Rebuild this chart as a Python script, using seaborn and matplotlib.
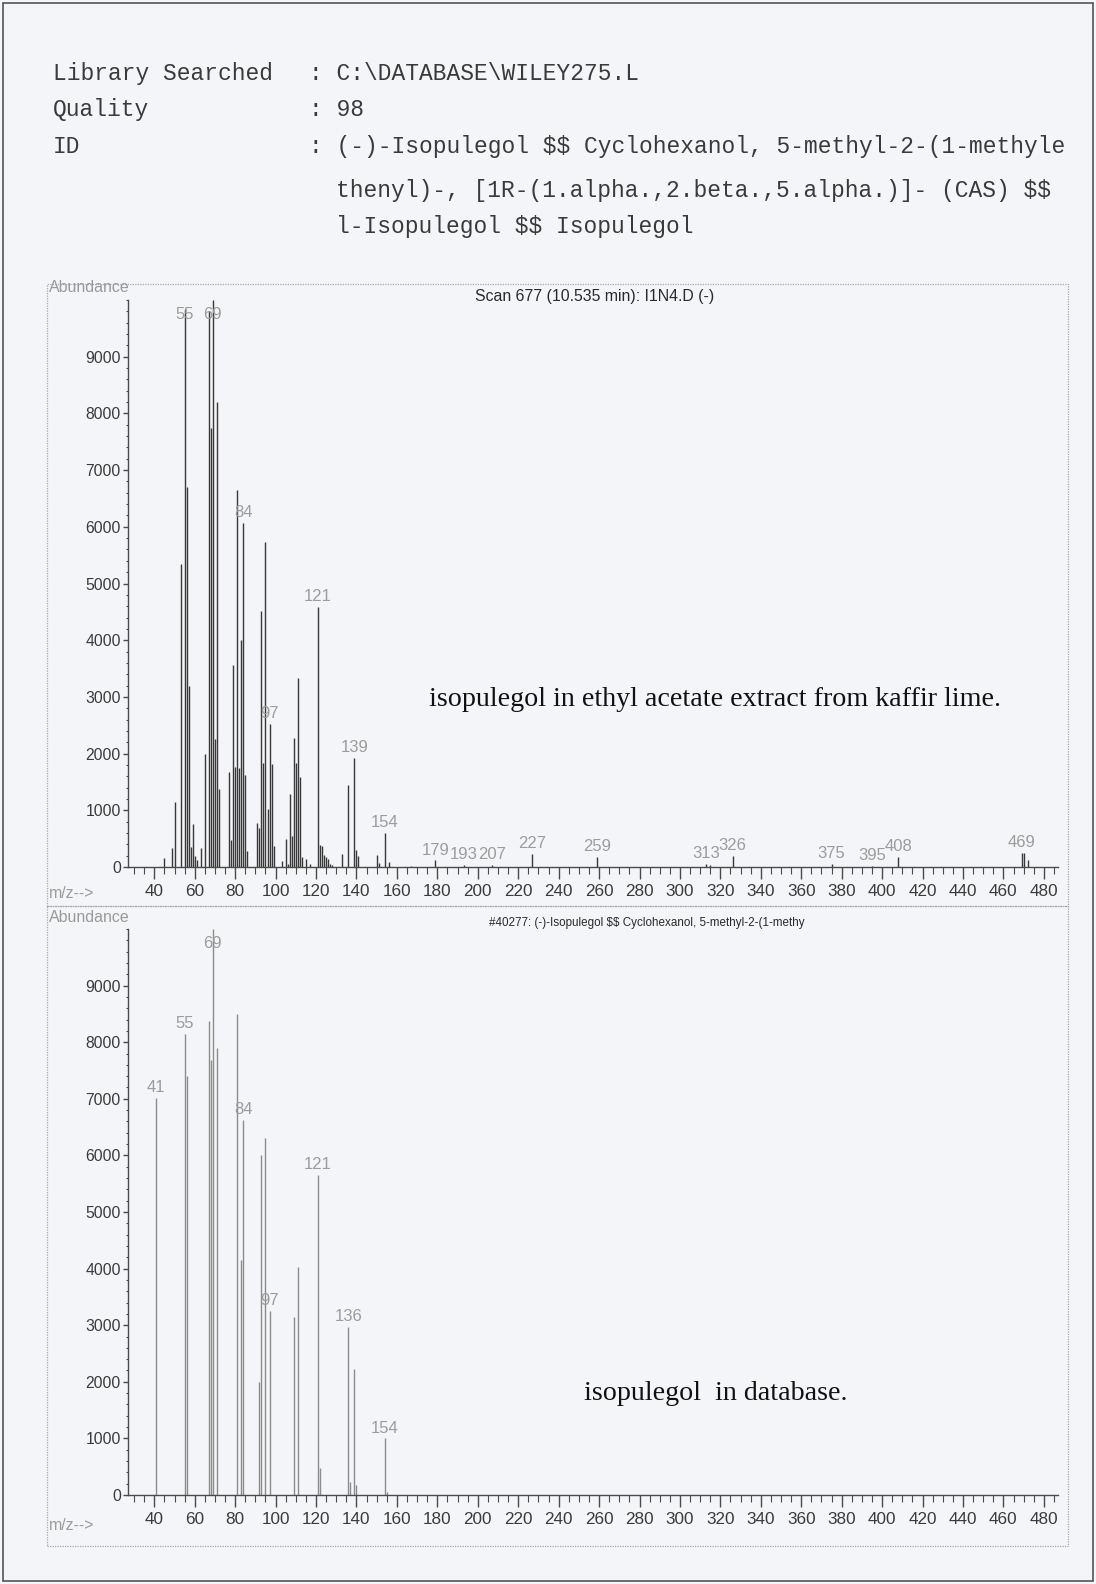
import matplotlib
matplotlib.use("Agg")
import numpy as np
import pandas as pd
import seaborn as sns
import matplotlib.pyplot as plt
from matplotlib.ticker import MultipleLocator
from matplotlib.patches import Rectangle

# ---------------- data ----------------
header_labels = ["Library Searched", "Quality", "ID"]
header_values = [": C:\\DATABASE\\WILEY275.L", ": 98",
                 ": (-)-Isopulegol $$ Cyclohexanol, 5-methyl-2-(1-methyle"]
header_cont = ["thenyl)-, [1R-(1.alpha.,2.beta.,5.alpha.)]- (CAS) $$",
               "l-Isopulegol $$ Isopulegol"]

sample_title = "Scan 677 (10.535 min): I1N4.D (-)"
library_title = "#40277: (-)-Isopulegol $$ Cyclohexanol, 5-methyl-2-(1-methy"
sample_note = "isopulegol in ethyl acetate extract from kaffir lime."
library_note = "isopulegol  in database."

sample_mz = [45, 49, 50, 53, 55, 56, 57, 58, 59, 60, 61, 63, 65, 67, 68, 69, 70, 71, 72,
             77, 78, 79, 80, 81, 82, 83, 84, 85, 86, 91, 92, 93, 94, 95, 96, 97, 98, 99,
             103, 105, 106, 107, 108, 109, 110, 111, 112, 113, 115, 117, 121, 122, 123,
             124, 125, 126, 127, 128, 133, 136, 139, 140, 141, 150, 151, 154, 156, 167,
             179, 193, 207, 227, 259, 313, 315, 326, 375, 395, 408, 469, 470, 472]
sample_ab = [160, 340, 1150, 5350, 9840, 6700, 3200, 350, 750, 200, 130, 330, 2000, 9800,
             7750, 10000, 2250, 8200, 1370, 1670, 470, 3560, 1770, 6650, 1750, 4000, 6070,
             1620, 290, 770, 690, 4520, 1840, 5730, 1030, 2520, 1810, 370, 110, 490, 60,
             1280, 550, 2280, 1840, 3330, 1590, 175, 135, 60, 4580, 390, 370, 210, 175,
             135, 50, 35, 235, 1450, 1930, 295, 195, 210, 75, 605, 90, 15, 115, 30, 30,
             236, 175, 55, 30, 190, 55, 20, 175, 250, 240, 120]
sample_labels = [55, 69, 84, 97, 121, 139, 154, 179, 193, 207, 227, 259, 313, 326, 375,
                 395, 408, 469]

library_mz = [41, 55, 56, 67, 68, 69, 71, 81, 83, 84, 92, 93, 95, 97, 109, 111, 121, 122,
              136, 137, 139, 140, 154, 155]
library_ab = [7020, 8150, 7400, 8370, 7690, 10000, 7890, 8500, 4160, 6630, 2000, 6000,
              6300, 3250, 3150, 4020, 5650, 480, 2970, 230, 2230, 175, 1000, 60]
library_labels = [41, 55, 69, 84, 97, 121, 136, 154]

y_ticks = [0, 1000, 2000, 3000, 4000, 5000, 6000, 7000, 8000, 9000]
x_ticks = list(range(40, 481, 20))

# ---------------- style ----------------
sns.set_theme(style="white")
plt.rcParams["font.family"] = ["Liberation Sans", "DejaVu Sans"]
plt.rcParams["text.parse_math"] = False

W, H = 1096, 1584
BG = "#f4f5f8"
fig = plt.figure(figsize=(W / 100, H / 100), dpi=100, facecolor=BG)


def fx(x):
    return x / W


def fy(y):
    return 1 - y / H


# page border
fig.add_artist(Rectangle((fx(3), fy(1581)), fx(1090), (1578) / H, transform=fig.transFigure,
                         fill=False, edgecolor="#555555", lw=1.2))

# header text (monospace)
mono = ["Liberation Mono", "DejaVu Sans Mono"]
base_y = [80, 116, 153]
for lab, val, yb in zip(header_labels, header_values, base_y):
    fig.text(fx(53), fy(yb), lab, family=mono, fontsize=16.5, color="#3a3a3a",
             va="baseline", parse_math=False)
    fig.text(fx(309), fy(yb), val, family=mono, fontsize=16.5, color="#3a3a3a",
             va="baseline", parse_math=False)
for txt, yb in zip(header_cont, [197, 233]):
    fig.text(fx(336), fy(yb), txt, family=mono, fontsize=16.5, color="#3a3a3a",
             va="baseline", parse_math=False)

# panel frames (dotted)
for (y0, y1) in [(284, 906), (906, 1546)]:
    fig.add_artist(Rectangle((fx(47), fy(y1)), fx(1068 - 47), (y1 - y0) / H,
                             transform=fig.transFigure, fill=False,
                             edgecolor="#a8a8a8", lw=0.9, ls=(0, (1, 1))))


def draw_panel(ax, mz, ab, labels, line_color, lw):
    df = pd.DataFrame({"mz": mz, "ab": ab})
    ax.set_facecolor("none")
    ax.vlines(df["mz"], 0, df["ab"], colors=line_color, lw=lw)
    ax.set_xlim(27, 487)
    ax.set_ylim(0, 10000)
    sns.despine(ax=ax)
    for s in ["left", "bottom"]:
        ax.spines[s].set_color("#4a4a4a")
        ax.spines[s].set_linewidth(1.0)
    ax.set_yticks(y_ticks)
    ax.yaxis.set_minor_locator(MultipleLocator(200))
    ax.set_xticks(x_ticks)
    ax.xaxis.set_minor_locator(MultipleLocator(5))
    ax.tick_params(axis="y", which="major", direction="out", length=3.6, width=1,
                   color="#4a4a4a", labelsize=11.3, labelcolor="#3a3a3a", pad=1.5,
                   left=True)
    ax.tick_params(axis="y", which="minor", direction="out", length=1.8, width=0.8,
                   color="#4a4a4a", left=True)
    ax.tick_params(axis="x", which="major", direction="out", length=8.5, width=1,
                   color="#4a4a4a", labelsize=12.3, labelcolor="#3a3a3a", pad=4,
                   bottom=True)
    ax.tick_params(axis="x", which="minor", direction="out", length=5, width=0.8,
                   color="#4a4a4a", bottom=True)
    ax.grid(False)
    lab = df[df["mz"].isin(labels)]
    for m, a in zip(lab["mz"], lab["ab"]):
        ax.text(m, min(a + 50, 9610), str(m), ha="center", va="bottom",
                fontsize=12, color="#9c9c9c")


ax1 = fig.add_axes([fx(128), fy(867), (1058 - 128) / W, (867 - 300) / H])
draw_panel(ax1, sample_mz, sample_ab, sample_labels, "#383838", 1.0)
ax2 = fig.add_axes([fx(128), fy(1495), (1058 - 128) / W, (1495 - 929) / H])
draw_panel(ax2, library_mz, library_ab, library_labels, "#8c8c8c", 1.0)

# panel annotation texts
for yA, yM in [(287, 893), (917, 1526)]:
    fig.text(fx(49), fy(yA), "Abundance", fontsize=11.5, color="#9a9a9a", va="center")
    fig.text(fx(49), fy(yM), "m/z-->", fontsize=11.4, color="#9a9a9a", va="center")
fig.text(fx(595), fy(296), sample_title, fontsize=11.4, color="#2a2a2a",
         ha="center", va="center", parse_math=False)
fig.text(fx(647), fy(923), library_title, fontsize=8.4, color="#2a2a2a",
         ha="center", va="center", parse_math=False)

serif = ["Liberation Serif", "DejaVu Serif"]
fig.text(fx(429), fy(699), sample_note, family=serif, fontsize=20.2, color="#111111",
         ha="left", va="center")
fig.text(fx(584), fy(1394), library_note, family=serif, fontsize=20.2, color="#111111",
         ha="left", va="center")

fig.savefig("out.png", dpi=100, facecolor=BG)
